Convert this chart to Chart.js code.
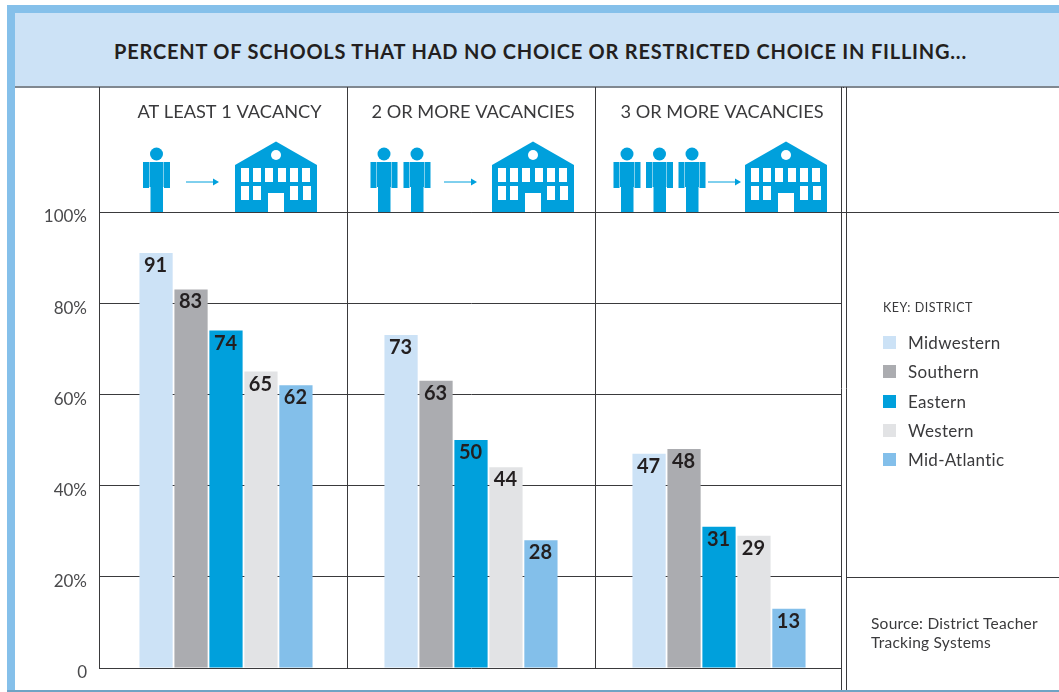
<!DOCTYPE html>
<html>
<head>
<meta charset="utf-8">
<title>Schools with restricted choice</title>
<script src="https://cdn.jsdelivr.net/npm/chart.js@4"></script>
<style>
  html, body { margin: 0; padding: 0; background: #fff; }
  #page { position: relative; width: 1059px; height: 692px; overflow: hidden; font-family: Lato, sans-serif; color: #3a3a3c; }
  #band-top { position: absolute; left: 7px; top: 5px; right: 0; height: 8px; background: #85c0ea; }
  #band-left { position: absolute; left: 7px; top: 5px; bottom: 0; width: 8px; background: #85c0ea; }
  #band-bottom { position: absolute; left: 7px; right: 0; top: 690px; height: 2px; background: #6fa3c4; }
  #title { position: absolute; left: 15px; right: 0; top: 13px; height: 73px; line-height: 77px; background: #cce2f6;
    border-bottom: 2px solid #808890; font-weight: 700; font-size: 20px; letter-spacing: 0.79px; color: #231f20; text-indent: 99px; white-space: nowrap; }
  canvas { position: absolute; left: 0; top: 0; }
  #key { position: absolute; left: 883px; top: 300px; }
  #key .head { font-size: 12.5px; letter-spacing: 0.5px; margin-bottom: 13px; line-height: 15px; }
  #key .row { position: relative; height: 29.25px; line-height: 29px; font-size: 17px; padding-left: 25px; letter-spacing: 0.3px; }
  #key .row i { position: absolute; left: 0; top: 8px; width: 13px; height: 13px; }
  #source { position: absolute; left: 871px; top: 614px; font-size: 15.5px; letter-spacing: 0.25px; line-height: 19px; }
</style>
</head>
<body>
<div id="page">
  <div id="band-top"></div>
  <div id="band-left"></div>
  <div id="title">PERCENT OF SCHOOLS THAT HAD NO CHOICE OR RESTRICTED CHOICE IN FILLING...</div>
  <canvas id="chart" width="1059" height="692"></canvas>
  <div id="band-bottom"></div>
  <div id="key"><div class="head">KEY: DISTRICT</div></div>
  <div id="source">Source: District Teacher<br>Tracking Systems</div>
</div>
<script>
// ── DATA ─────────────────────────────────────────────────────────────
const categories = ["AT LEAST 1 VACANCY", "2 OR MORE VACANCIES", "3 OR MORE VACANCIES"]
const districts = ["Midwestern", "Southern", "Eastern", "Western", "Mid-Atlantic"]
const midwestern = [91, 73, 47]
const southern = [83, 63, 48]
const eastern = [74, 50, 31]
const western = [65, 44, 29]
const midAtlantic = [62, 28, 13]
const tickValues = [0, 20, 40, 60, 80, 100]

const seriesValues = [midwestern, southern, eastern, western, midAtlantic]
const colors = ["#cce2f6", "#abacb0", "#00a0dc", "#e2e3e5", "#83bfea"]
const lineColor = "#3a3a3c"
const iconColor = "#00a0dc"

// ── KEY ──────────────────────────────────────────────────────────────
const key = document.getElementById("key")
districts.forEach((name, i) => {
  const row = document.createElement("div")
  row.className = "row"
  row.innerHTML = `<i style="background:${colors[i]}"></i>${name}`
  key.appendChild(row)
})

// ── ICONS ────────────────────────────────────────────────────────────
function drawPerson(ctx, cx) {
  ctx.fillStyle = iconColor
  ctx.beginPath()
  ctx.arc(cx, 154, 6.5, 0, Math.PI * 2)
  ctx.fill()
  ctx.fillRect(cx - 7, 162, 14, 25)
  ctx.fillRect(cx - 13.5, 162, 6, 26)
  ctx.fillRect(cx + 7.5, 162, 6, 26)
  ctx.fillRect(cx - 6, 187, 12.5, 25)
}

function drawSchool(ctx, x) {
  ctx.fillStyle = iconColor
  ctx.beginPath()
  ctx.moveTo(x, 165)
  ctx.lineTo(x + 41, 141.5)
  ctx.lineTo(x + 82, 165)
  ctx.lineTo(x + 82, 212)
  ctx.lineTo(x, 212)
  ctx.closePath()
  ctx.fill()
  ctx.fillStyle = "#fff"
  ctx.beginPath()
  ctx.arc(x + 41, 155, 5, 0, Math.PI * 2)
  ctx.fill()
  ;[6, 18, 30, 43, 55, 67].forEach(dx => ctx.fillRect(x + dx, 168, 8, 14))
  ;[6, 18, 55, 68].forEach(dx => ctx.fillRect(x + dx, 186, 8, 14))
  ctx.fillRect(x + 33, 193, 16, 19)
}

function drawArrow(ctx, x) {
  ctx.strokeStyle = iconColor
  ctx.lineWidth = 1
  ctx.beginPath()
  ctx.moveTo(x, 182)
  ctx.lineTo(x + 29, 182)
  ctx.stroke()
  ctx.fillStyle = iconColor
  ctx.beginPath()
  ctx.moveTo(x + 33, 182)
  ctx.lineTo(x + 27, 178.5)
  ctx.lineTo(x + 27, 185.5)
  ctx.closePath()
  ctx.fill()
}

const iconsPlugin = {
  id: "icons",
  beforeDatasetsDraw(chart) {
    const ctx = chart.ctx
    ctx.save()
    ;[156.5, 384, 417, 627, 659.5, 692].forEach(cx => drawPerson(ctx, cx))
    ;[235, 492, 745].forEach(x => drawSchool(ctx, x))
    ;[186, 444, 708].forEach(x => drawArrow(ctx, x))
    ctx.restore()
  }
}

// double rule on the right and the lines that run on into the key column
const framePlugin = {
  id: "frame",
  beforeDatasetsDraw(chart) {
    const ctx = chart.ctx
    const { right } = chart.chartArea
    const y = chart.scales.y
    const inner = right - 2
    const outer = right + 3
    ctx.save()
    ctx.clearRect(inner, 88, 4, 604)
    ctx.strokeStyle = lineColor
    ctx.lineWidth = 1
    ctx.beginPath()
    ctx.moveTo(inner + 0.5, 87)
    ctx.lineTo(inner + 0.5, 690)
    ctx.moveTo(outer + 0.5, 87)
    ctx.lineTo(outer + 0.5, 690)
    let py = Math.round(y.getPixelForValue(100)) + 0.5
    ctx.moveTo(inner, py)
    ctx.lineTo(1059, py)
    py = Math.round(y.getPixelForValue(20)) + 0.5
    ctx.moveTo(outer, py)
    ctx.lineTo(1059, py)
    ctx.stroke()
    ctx.restore()
  }
}

// first group sits a little right of its column centre
const nudgePlugin = {
  id: "nudge",
  afterDatasetsUpdate(chart) {
    chart.data.datasets.forEach((d, i) => {
      chart.getDatasetMeta(i).data[0].x += 3
    })
  }
}

// header labels are not quite centred over their columns in the original
const headerShift = [2.5, -2, -1]
const headerPlugin = {
  id: "header",
  beforeDraw(chart) {
    chart.scales.x.getLabelItems().forEach((item, i) => {
      item.options.translation[0] += headerShift[i]
    })
  }
}

const valueLabels = {
  id: "valueLabels",
  afterDatasetsDraw(chart) {
    const ctx = chart.ctx
    ctx.save()
    ctx.font = "700 20px Lato, sans-serif"
    ctx.fillStyle = "#231f20"
    ctx.textAlign = "center"
    ctx.textBaseline = "middle"
    chart.data.datasets.forEach((d, i) => {
      chart.getDatasetMeta(i).data.forEach((bar, j) => {
        ctx.fillText(d.data[j], bar.x - 0.5, bar.y + 12.5)
      })
    })
    ctx.restore()
  }
}

// ── CHART ────────────────────────────────────────────────────────────
new Chart(document.getElementById("chart"), {
  type: "bar",
  data: {
    labels: categories,
    datasets: districts.map((name, i) => ({
      label: name,
      data: seriesValues[i],
      backgroundColor: colors[i],
      borderWidth: 0,
      categoryPercentage: 0.705,
      barPercentage: 0.95
    }))
  },
  plugins: [framePlugin, iconsPlugin, nudgePlugin, headerPlugin, valueLabels],
  options: {
    responsive: false,
    animation: false,
    layout: { padding: { left: 0, top: 87, right: 216, bottom: 24 } },
    plugins: { legend: { display: false }, tooltip: { enabled: false } },
    scales: {
      x: {
        position: "top",
        afterFit: s => { s.height = 125 },
        grid: { color: lineColor, lineWidth: 1, drawTicks: true, tickLength: 125, tickColor: lineColor },
        border: { color: lineColor },
        ticks: {
          color: "#3a3a3c",
          font: { family: "Lato, sans-serif", size: 18.2 },
          padding: -36,
          labelOffset: 4,
          maxRotation: 0,
          autoSkip: false
        }
      },
      y: {
        min: 0,
        max: 100,
        afterFit: s => { s.width = 99 },
        afterBuildTicks: s => { s.ticks = tickValues.map(value => ({ value })) },
        grid: { color: lineColor, lineWidth: 1, drawTicks: false },
        border: { color: lineColor },
        ticks: {
          color: "#4a4a4c",
          font: { family: "Lato, sans-serif", size: 17 },
          padding: 12,
          labelOffset: 5,
          callback: v => v === 0 ? "0" : v + "%"
        }
      }
    }
  }
})
</script>
</body>
</html>
